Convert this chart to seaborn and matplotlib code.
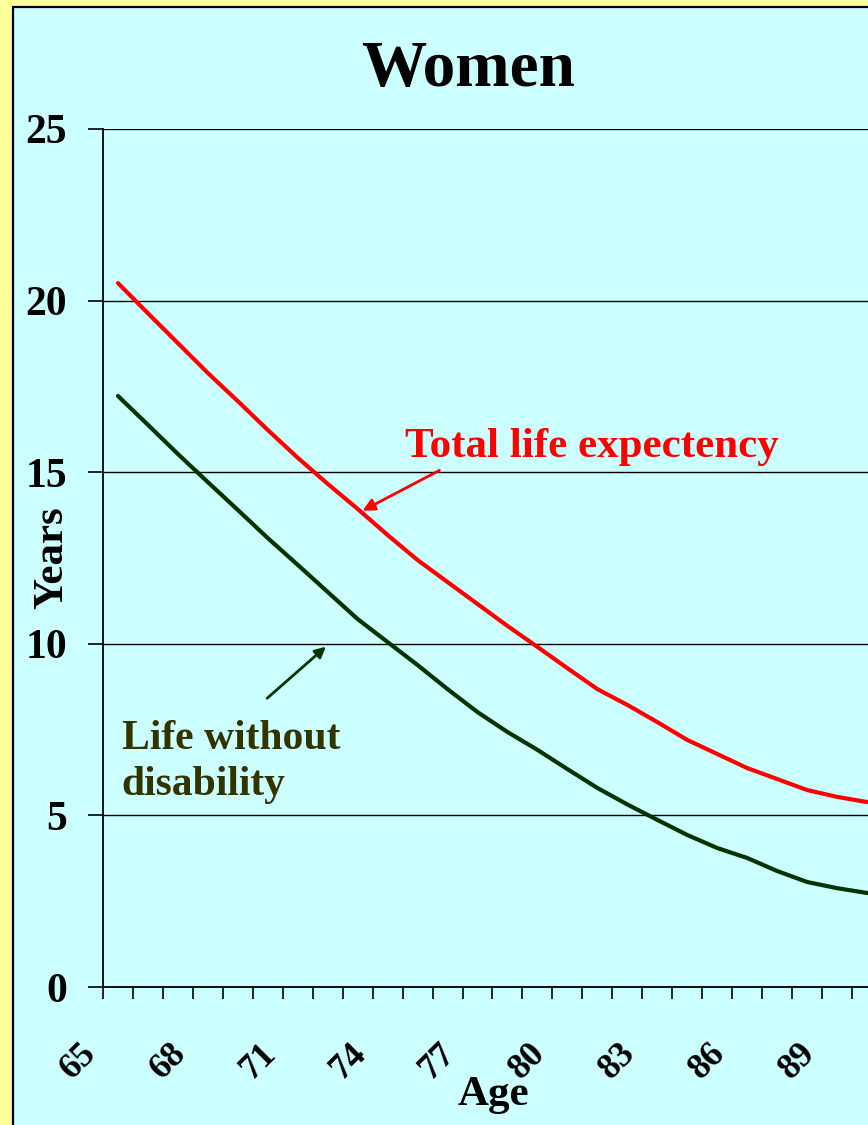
import numpy as np
import pandas as pd
import seaborn as sns
from matplotlib import pyplot as plt
from matplotlib.patches import Rectangle

# values
ages = list(range(65, 92))
total_life = [20.51, 19.63, 18.76, 17.89, 17.07, 16.23, 15.42, 14.66, 13.93,
              13.17, 12.44, 11.80, 11.16, 10.52, 9.91, 9.29, 8.68, 8.22,
              7.72, 7.20, 6.79, 6.38, 6.06, 5.74, 5.54, 5.39, 5.25]
no_disability = [17.22, 16.38, 15.53, 14.71, 13.90, 13.08, 12.30, 11.51, 10.72,
                 10.05, 9.38, 8.68, 8.01, 7.43, 6.91, 6.35, 5.80, 5.32,
                 4.87, 4.43, 4.05, 3.76, 3.38, 3.06, 2.88, 2.74, 2.62]
tick_ages = [65, 68, 71, 74, 77, 80, 83, 86, 89]

YELLOW = "#FFFF99"
CYAN = "#CCFFFF"
RED = "#FF0000"
GREEN = "#003300"
OLIVE = "#333300"

sns.set_style("white")
plt.rcParams["font.family"] = ["Liberation Serif", "DejaVu Serif"]
plt.rcParams["font.weight"] = "bold"
for key in ["text.color", "axes.labelcolor", "xtick.color", "ytick.color"]:
    plt.rcParams[key] = "black"

W, H = 868, 1125
fig = plt.figure(figsize=(W / 100, H / 100), dpi=100, facecolor=YELLOW)

# chart area box (runs off the right and bottom edges, as in the crop)
fig.patches.append(Rectangle((13 / W, -0.05), 1.2, 1 - 7 / H + 0.05,
                             transform=fig.transFigure, facecolor=CYAN,
                             edgecolor="black", linewidth=1.6, zorder=-10))

# plot area: 27 categories of ~30 px, extends past the right edge
cat_px = 29.96
left, bottom, top = 103, 987, 129
ax = fig.add_axes([left / W, (H - bottom) / H, 27 * cat_px / W, (bottom - top) / H])
ax.set_facecolor(CYAN)

df = pd.DataFrame({
    "age": ages * 2,
    "years": total_life + no_disability,
    "series": ["Total life expectency"] * len(ages) + ["Life without disability"] * len(ages),
})
sns.lineplot(data=df, x="age", y="years", hue="series",
             palette={"Total life expectency": RED, "Life without disability": GREEN},
             linewidth=3, legend=False, ax=ax)

ax.set_xlim(64.5, 91.5)
ax.set_ylim(0, 25)
ax.set_yticks([0, 5, 10, 15, 20, 25])
ax.yaxis.grid(True, color="black", linewidth=1)
ax.xaxis.grid(False)
for side in ["top", "right"]:
    ax.spines[side].set_visible(False)
for side in ["left", "bottom"]:
    ax.spines[side].set_color("black")
    ax.spines[side].set_linewidth(1.3)

# category boundaries as tick marks, labels on every third one
bounds = [a - 0.5 for a in ages] + [ages[-1] + 0.5]
ax.set_xticks(bounds)
ax.set_xticklabels([str(int(b + 0.5)) if int(b + 0.5) in tick_ages else "" for b in bounds],
                   rotation=45, ha="right", rotation_mode="default",
                   fontsize=26, fontweight="bold", color="black")
ax.tick_params(axis="x", bottom=True, direction="out", length=8.6, width=1.2,
               color="black", pad=27)
ax.tick_params(axis="y", left=True, direction="out", length=11, width=1.2,
               color="black", pad=15, labelsize=30, labelcolor="black")
for lab in ax.get_yticklabels():
    lab.set_fontweight("bold")

ax.set_xlabel("Age", fontsize=31, fontweight="bold", va="center", color="black")
ax.set_ylabel("Years", fontsize=31, fontweight="bold", va="center", color="black")
ax.xaxis.set_label_coords((493 - left) / (27 * cat_px), (bottom - 1095) / (bottom - top))
ax.yaxis.set_label_coords((52 - left) / (27 * cat_px), 0.5)

fig.text(468 / W, 1 - 70 / H, "Women", ha="center", va="center",
         fontsize=47, fontweight="bold", color="black")

ax.annotate("", xy=(73.08, 13.84), xytext=(75.81, 15.09),
            arrowprops=dict(arrowstyle="-|>", color=RED, lw=2, mutation_scale=18))
ax.text(74.58, 15.73, "Total life expectency", color=RED, fontsize=31,
        fontweight="bold", ha="left", va="center")

ax.annotate("", xy=(72.01, 9.97), xytext=(69.91, 8.36),
            arrowprops=dict(arrowstyle="-|>", color=GREEN, lw=2, mutation_scale=16))
ax.text(65.13, 6.56, "Life without\ndisability", color=OLIVE, fontsize=30,
        fontweight="bold", ha="left", va="center", linespacing=1.3)

fig.savefig("out.png", dpi=100, facecolor=YELLOW)
